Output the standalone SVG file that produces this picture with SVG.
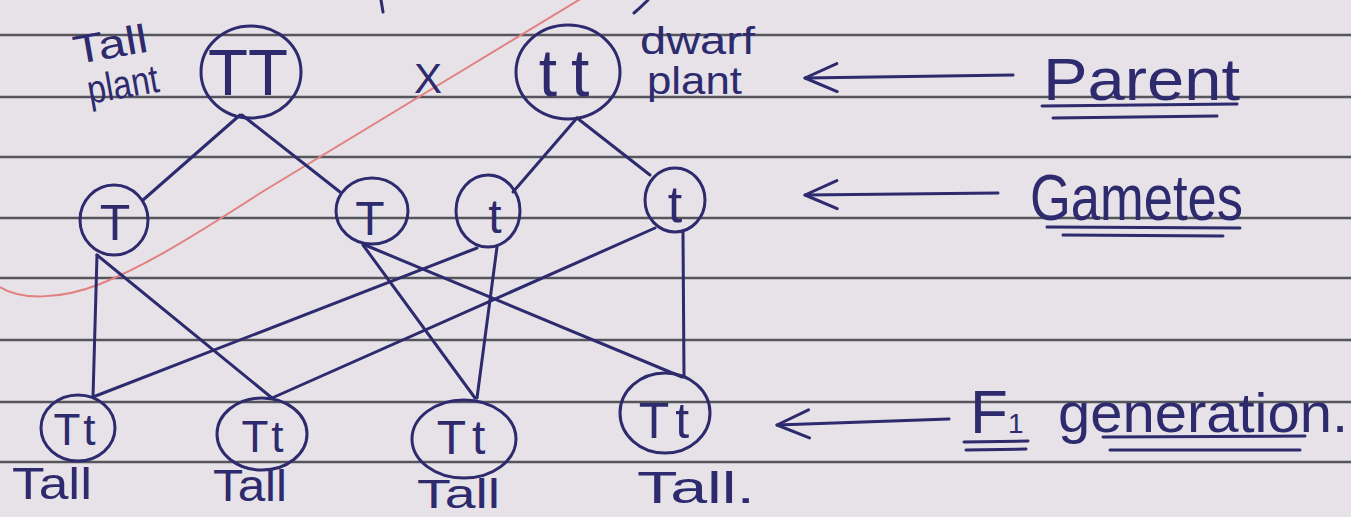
<svg xmlns="http://www.w3.org/2000/svg" width="1351" height="517" viewBox="0 0 1351 517">
<defs>
<style>
.ink{fill:none;stroke:#2d2a6e;stroke-width:3;stroke-linecap:round;stroke-linejoin:round}
.rule{stroke:#56555c;stroke-width:2.5}
.t{font-family:"Liberation Sans",Arial,sans-serif;fill:#2d2a6e}
.red{fill:none;stroke:#e2807f;stroke-width:2}
</style>
<marker id="open" viewBox="0 0 36 32" refX="34" refY="16" markerWidth="36" markerHeight="32" markerUnits="userSpaceOnUse" orient="auto">
<path d="M2,2 L34,16 L2,30" fill="none" stroke="#2d2a6e" stroke-width="3" stroke-linecap="round" stroke-linejoin="round"/>
</marker>
</defs>
<rect width="1351" height="517" fill="#e6e2e8"/>
<g id="ruled-lines">
<line class="rule" x1="0" y1="35" x2="1351" y2="35"/>
<line class="rule" x1="0" y1="97" x2="1351" y2="97"/>
<line class="rule" x1="0" y1="157" x2="1351" y2="157"/>
<line class="rule" x1="0" y1="218" x2="1351" y2="218"/>
<line class="rule" x1="0" y1="278" x2="1351" y2="278"/>
<line class="rule" x1="0" y1="340" x2="1351" y2="340"/>
<line class="rule" x1="0" y1="402" x2="1351" y2="402"/>
<line class="rule" x1="0" y1="462" x2="1351" y2="462"/>
</g>
<path class="red" d="M0,287 C20,300 60,300 100,284 C140,268 180,245 262,192 L592,-8"/>
<path class="ink" d="M381,0 L383,12 M648,0 Q640,8 634,13"/>
<g id="connectors">
<path class="ink" d="M240,115 L143,200"/>
<path class="ink" d="M242,115 L340,192"/>
<path class="ink" d="M577,118 L513,192"/>
<path class="ink" d="M577,118 L650,175"/>
<path class="ink" d="M97,255 L93,397"/>
<path class="ink" d="M97,255 L272,398"/>
<path class="ink" d="M477,248 L93,397"/>
<path class="ink" d="M655,228 L272,398"/>
<path class="ink" d="M363,245 L475,398"/>
<path class="ink" d="M365,245 L682,377"/>
<path class="ink" d="M497,247 L477,398"/>
<path class="ink" d="M683,232 L684,377"/>
</g>
<g id="node-TT">
<ellipse class="ink" cx="251" cy="72" rx="50" ry="46"/>
<text class="t" x="248" y="95" font-size="64" text-anchor="middle" textLength="80" lengthAdjust="spacingAndGlyphs">TT</text>
</g>
<g id="label-tall-plant">
<text class="t" x="73" y="58" font-size="40" textLength="75" lengthAdjust="spacingAndGlyphs" transform="rotate(-10 110 45)">Tall</text>
<text class="t" x="87" y="98" font-size="40" textLength="72" lengthAdjust="spacingAndGlyphs" transform="rotate(-10 123 85)">plant</text>
</g>
<text class="t" x="428" y="93" font-size="42" text-anchor="middle">X</text>
<g id="node-tt">
<ellipse class="ink" cx="568" cy="72" rx="52" ry="47"/>
<text class="t" x="571" y="96" font-size="66" text-anchor="middle" letter-spacing="14">tt</text>
</g>
<g id="label-dwarf-plant">
<text class="t" x="640" y="54" font-size="38" textLength="115" lengthAdjust="spacingAndGlyphs">dwarf</text>
<text class="t" x="647" y="94" font-size="38" textLength="95" lengthAdjust="spacingAndGlyphs">plant</text>
</g>
<g id="node-gamete-T1">
<ellipse class="ink" cx="114" cy="220" rx="34" ry="35"/>
<text class="t" x="115" y="240" font-size="50" text-anchor="middle">T</text>
</g>
<g id="node-gamete-T2">
<ellipse class="ink" cx="372" cy="211" rx="36" ry="33"/>
<text class="t" x="370" y="235" font-size="48" text-anchor="middle">T</text>
</g>
<g id="node-gamete-t1">
<ellipse class="ink" cx="488" cy="211" rx="32" ry="36"/>
<text class="t" x="495" y="233" font-size="48" text-anchor="middle">t</text>
</g>
<g id="node-gamete-t2">
<ellipse class="ink" cx="675" cy="200" rx="30" ry="32"/>
<text class="t" x="675" y="222" font-size="52" text-anchor="middle">t</text>
</g>
<g id="node-F1-1">
<ellipse class="ink" cx="78" cy="428" rx="37" ry="33"/>
<text class="t" x="76" y="445" font-size="44" text-anchor="middle" letter-spacing="3">Tt</text>
</g>
<g id="node-F1-2">
<ellipse class="ink" cx="262" cy="434" rx="45" ry="36"/>
<text class="t" x="264" y="452" font-size="44" text-anchor="middle" letter-spacing="3">Tt</text>
</g>
<g id="node-F1-3">
<ellipse class="ink" cx="464" cy="439" rx="52" ry="39"/>
<text class="t" x="464" y="454" font-size="48" text-anchor="middle" letter-spacing="6">Tt</text>
</g>
<g id="node-F1-4">
<ellipse class="ink" cx="665" cy="413" rx="45" ry="40"/>
<text class="t" x="667" y="438" font-size="50" text-anchor="middle" letter-spacing="6">Tt</text>
</g>
<g id="labels-F1">
<text class="t" x="12" y="499" font-size="44" textLength="80" lengthAdjust="spacingAndGlyphs">Tall</text>
<text class="t" x="213" y="501" font-size="44" textLength="74" lengthAdjust="spacingAndGlyphs">Tall</text>
<text class="t" x="417" y="508" font-size="40" textLength="83" lengthAdjust="spacingAndGlyphs">Tall</text>
<text class="t" x="637" y="503" font-size="44" textLength="118" lengthAdjust="spacingAndGlyphs">Tall.</text>
</g>
<g id="legend">
<line class="ink" x1="1013" y1="75" x2="805" y2="78" marker-end="url(#open)"/>
<text class="t" x="1043" y="100" font-size="60" textLength="197" lengthAdjust="spacingAndGlyphs">Parent</text>
<path class="ink" d="M1042,106 L1237,104 M1053,118 L1217,116"/>
<line class="ink" x1="998" y1="193" x2="805" y2="195" marker-end="url(#open)"/>
<text class="t" x="1030" y="220" font-size="64" textLength="213" lengthAdjust="spacingAndGlyphs">Gametes</text>
<path class="ink" d="M1047,227 L1240,228 M1063,235 L1223,236"/>
<line class="ink" x1="949" y1="419" x2="777" y2="425" marker-end="url(#open)"/>
<text class="t" x="970" y="433" font-size="62">F<tspan font-size="28">1</tspan></text>
<path class="ink" d="M964,442 L1028,441 M966,450 L1026,449"/>
<text class="t" x="1058" y="432" font-size="56" textLength="290" lengthAdjust="spacingAndGlyphs">generation.</text>
<path class="ink" d="M1103,437 L1305,436 M1110,450 L1300,450"/>
</g>
</svg>
